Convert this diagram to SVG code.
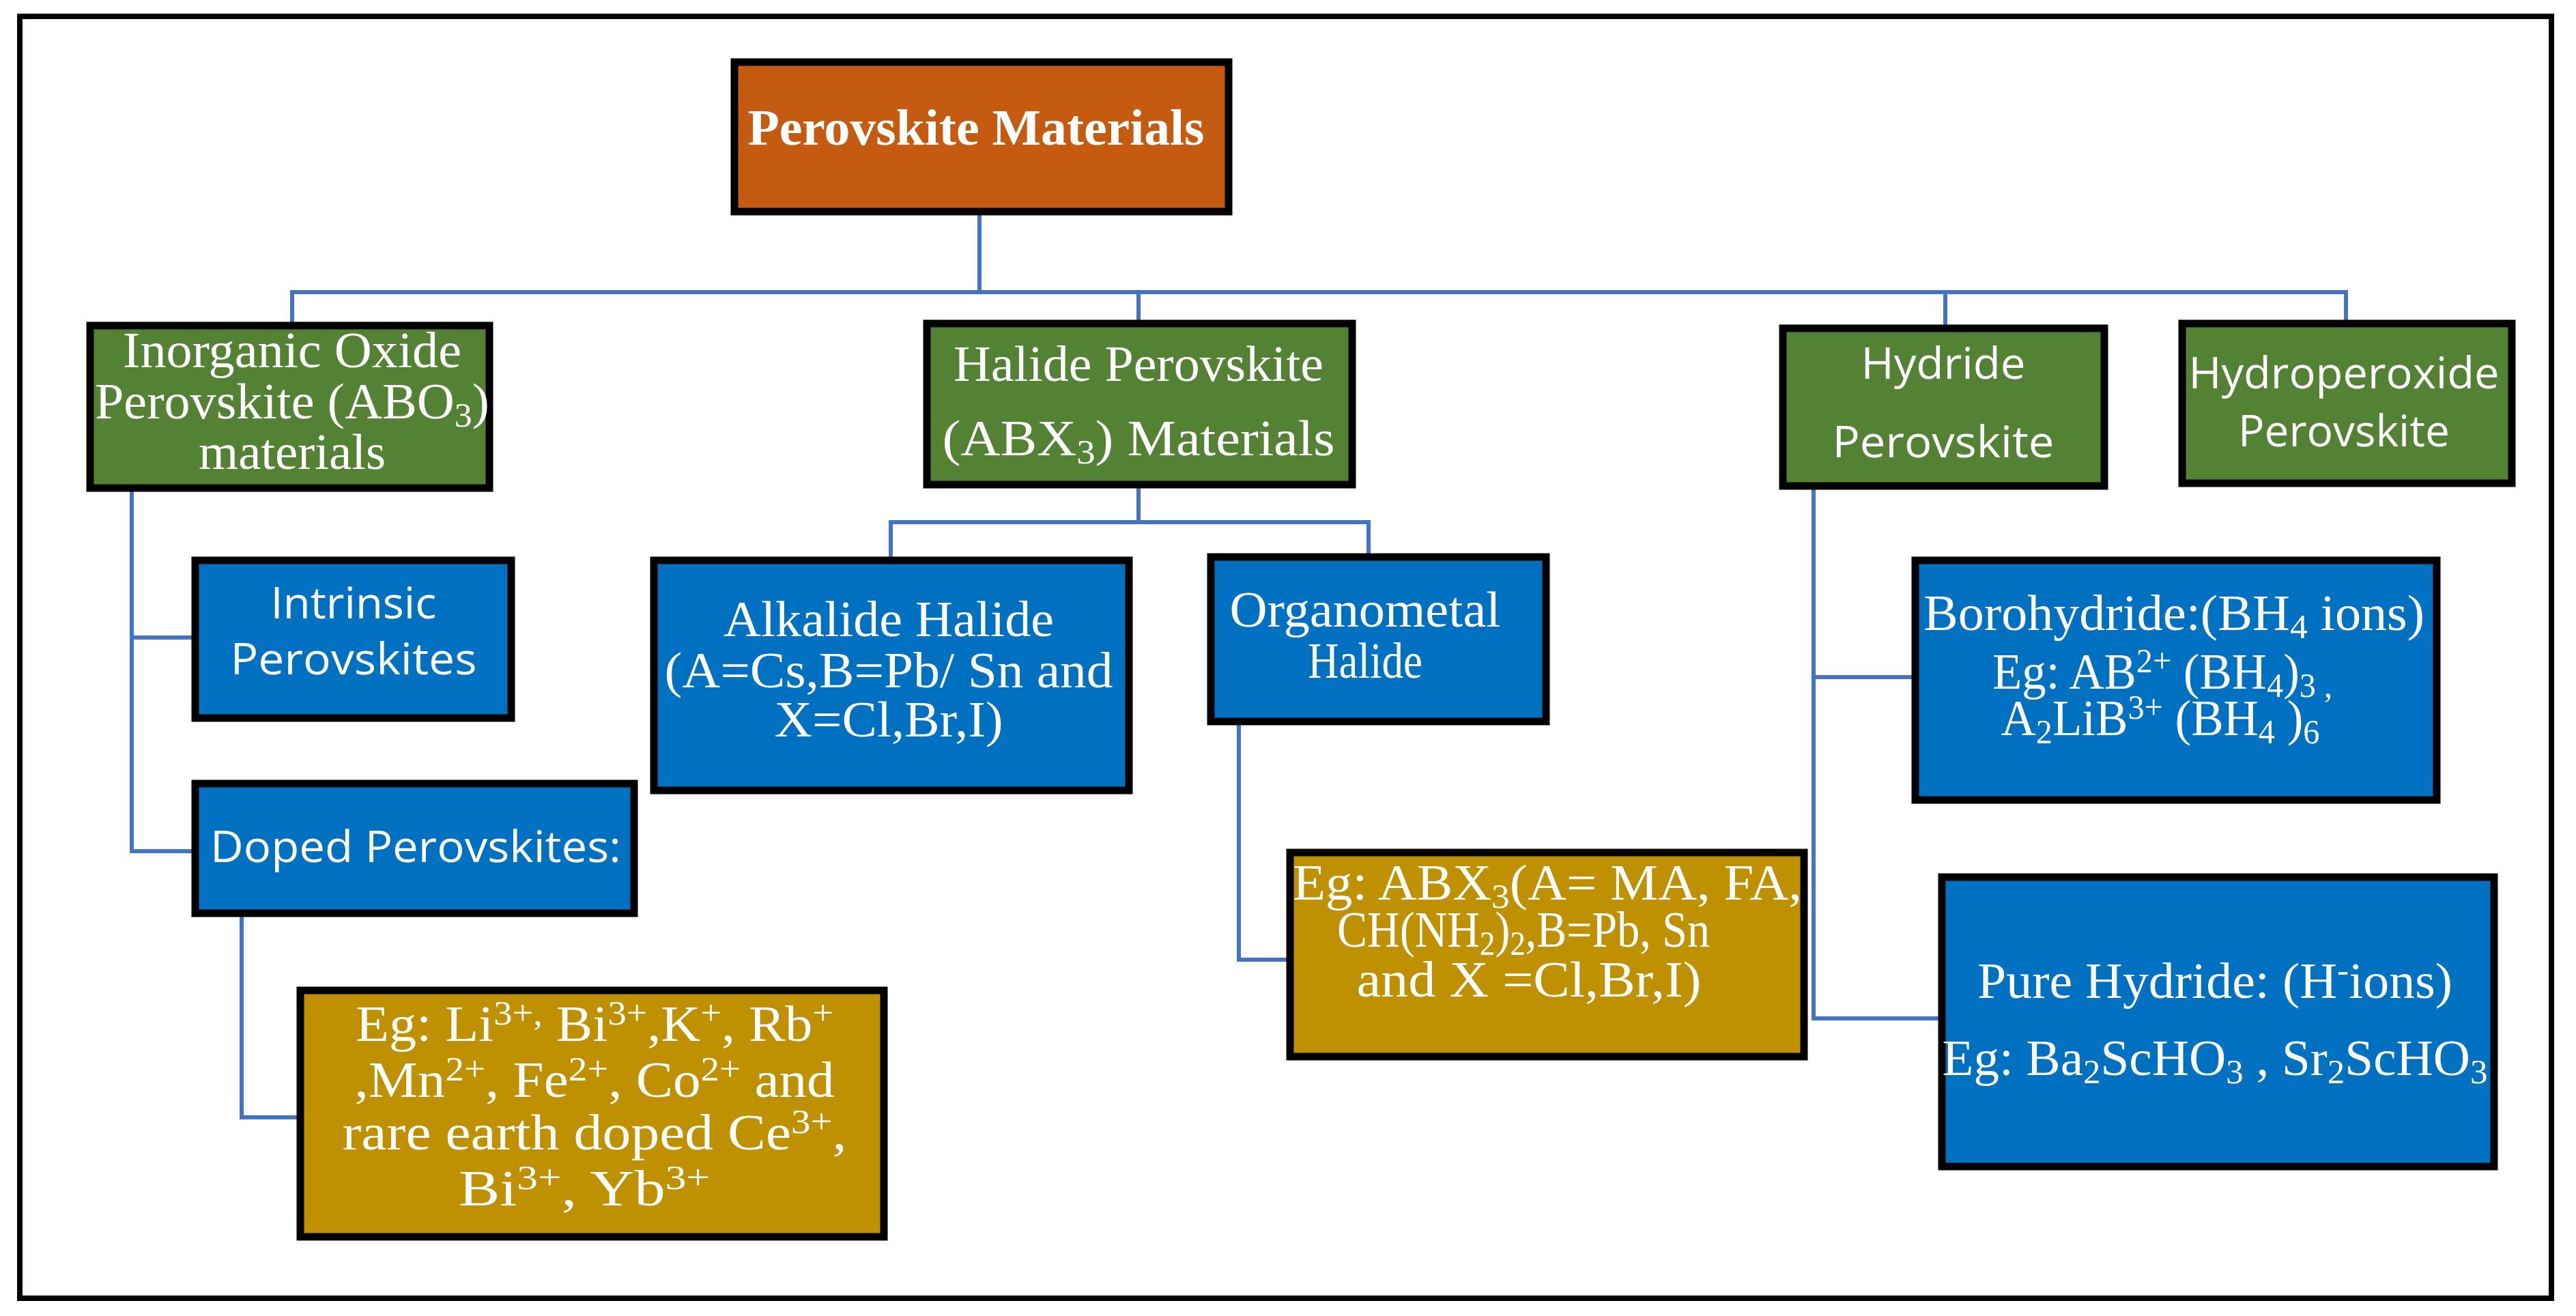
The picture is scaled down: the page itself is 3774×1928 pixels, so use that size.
<svg xmlns="http://www.w3.org/2000/svg" width="3774" height="1928" viewBox="0 0 3774 1928">
<style>
.b{stroke:#000;stroke-width:11}
.o{fill:#C55A11}.g{fill:#548235}.u{fill:#0070C0}.y{fill:#BF9000}
.s{font-family:"Liberation Serif","Times New Roman",serif;fill:#fff;text-anchor:middle;font-size:74px}
.n{font-family:"Open Sans","Noto Sans",sans-serif;fill:#fff;text-anchor:middle;font-size:64px}
.c{fill:none;stroke:#4472C4;stroke-width:6}
.p{font-size:68%}
</style>
<rect x="29" y="24" width="3709" height="1878" fill="#fff" stroke="#000" stroke-width="8"/>
<g id="connectors" class="c">
<path d="M1435 310V428M428 476V428H3437V474M1668 428V474M2850 428V481"/>
<path d="M193 715V1247H286M193 934H286M354 1338V1637H440"/>
<path d="M1668 710V765M1305 821V765H2005V816"/>
<path d="M1815 1057V1406H1890"/>
<path d="M2657 712V1492H2845M2657 992H2806"/>
</g>
<g id="root"><rect class="b o" x="1076" y="91" width="724" height="219"/>
<text class="s" x="1430" y="212" font-size="72" font-weight="bold" textLength="669" lengthAdjust="spacingAndGlyphs">Perovskite Materials</text></g>
<g id="inorganic"><rect class="b g" x="132" y="477" width="585" height="238"/>
<text class="s" x="428" y="538" textLength="496" lengthAdjust="spacingAndGlyphs">Inorganic Oxide</text>
<text class="s" x="428" y="613" textLength="578" lengthAdjust="spacingAndGlyphs">Perovskite (ABO<tspan class="p" dy="12">3</tspan><tspan dy="-12">)</tspan></text>
<text class="s" x="428" y="687" textLength="274" lengthAdjust="spacingAndGlyphs">materials</text></g>
<g id="halide"><rect class="b g" x="1358" y="474" width="623" height="236"/>
<text class="s" x="1668" y="558" textLength="542" lengthAdjust="spacingAndGlyphs">Halide Perovskite</text>
<text class="s" x="1668" y="667" textLength="575" lengthAdjust="spacingAndGlyphs">(ABX<tspan class="p" dy="12">3</tspan><tspan dy="-12">) Materials</tspan></text></g>
<g id="hydride"><rect class="b g" x="2612" y="481" width="471" height="231"/>
<text class="n" x="2847" y="555" textLength="241" lengthAdjust="spacingAndGlyphs">Hydride</text>
<text class="n" x="2847" y="670" textLength="325" lengthAdjust="spacingAndGlyphs">Perovskite</text></g>
<g id="hydroperoxide"><rect class="b g" x="3197" y="474" width="483" height="234"/>
<text class="n" x="3434" y="569" textLength="455" lengthAdjust="spacingAndGlyphs">Hydroperoxide</text>
<text class="n" x="3434" y="654" textLength="310" lengthAdjust="spacingAndGlyphs">Perovskite</text></g>
<g id="intrinsic"><rect class="b u" x="286" y="821" width="463" height="231"/>
<text class="n" x="518" y="906" textLength="243" lengthAdjust="spacingAndGlyphs">Intrinsic</text>
<text class="n" x="518" y="988" textLength="361" lengthAdjust="spacingAndGlyphs">Perovskites</text></g>
<g id="doped"><rect class="b u" x="286" y="1148" width="643" height="190"/>
<text class="n" x="609" y="1263" textLength="602" lengthAdjust="spacingAndGlyphs">Doped Perovskites:</text></g>
<g id="doped-eg"><rect class="b y" x="440" y="1451" width="855" height="361"/>
<g class="s" font-size="82">
<text x="871" y="1525" textLength="700" lengthAdjust="spacingAndGlyphs">Eg: Li<tspan class="p" dy="-24">3+,</tspan><tspan dy="24"> Bi</tspan><tspan class="p" dy="-24">3+</tspan><tspan dy="24">,K</tspan><tspan class="p" dy="-24">+</tspan><tspan dy="24">, Rb</tspan><tspan class="p" dy="-24">+</tspan></text>
<text x="871" y="1607" textLength="703" lengthAdjust="spacingAndGlyphs">,Mn<tspan class="p" dy="-24">2+</tspan><tspan dy="24">, Fe</tspan><tspan class="p" dy="-24">2+</tspan><tspan dy="24">, Co</tspan><tspan class="p" dy="-24">2+</tspan><tspan dy="24"> and</tspan></text>
<text x="871" y="1684" textLength="739" lengthAdjust="spacingAndGlyphs">rare earth doped Ce<tspan class="p" dy="-24">3+</tspan><tspan dy="24">,</tspan></text>
<text x="856" y="1766" textLength="368" lengthAdjust="spacingAndGlyphs">Bi<tspan class="p" dy="-24">3+</tspan><tspan dy="24">, Yb</tspan><tspan class="p" dy="-24">3+</tspan></text>
</g></g>
<g id="alkalide"><rect class="b u" x="958" y="821" width="696" height="337"/>
<text class="s" x="1302" y="932" textLength="484" lengthAdjust="spacingAndGlyphs">Alkalide Halide</text>
<text class="s" x="1302" y="1007" textLength="657" lengthAdjust="spacingAndGlyphs">(A=Cs,B=Pb/ Sn and</text>
<text class="s" x="1302" y="1079" textLength="335" lengthAdjust="spacingAndGlyphs">X=Cl,Br,I)</text></g>
<g id="organometal"><rect class="b u" x="1774" y="816" width="491" height="241"/>
<text class="s" x="2000" y="918" textLength="397" lengthAdjust="spacingAndGlyphs">Organometal</text>
<text class="s" x="2000" y="993" textLength="168" lengthAdjust="spacingAndGlyphs">Halide</text></g>
<g id="organometal-eg"><rect class="b y" x="1890" y="1249" width="753" height="299"/>
<text class="s" x="2267" y="1318" textLength="746" lengthAdjust="spacingAndGlyphs">Eg: ABX<tspan class="p" dy="12">3</tspan><tspan dy="-12">(A= MA, FA,</tspan></text>
<text class="s" x="2232" y="1387" textLength="546" lengthAdjust="spacingAndGlyphs">CH(NH<tspan class="p" dy="12">2</tspan><tspan dy="-12">)</tspan><tspan class="p" dy="12">2</tspan><tspan dy="-12">,B=Pb, Sn</tspan></text>
<text class="s" x="2240" y="1460" textLength="505" lengthAdjust="spacingAndGlyphs">and X =Cl,Br,I)</text></g>
<g id="borohydride"><rect class="b u" x="2806" y="821" width="764" height="351"/>
<text class="s" x="3185" y="923" textLength="734" lengthAdjust="spacingAndGlyphs">Borohydride:(BH<tspan class="p" dy="12">4</tspan><tspan dy="-12"> ions)</tspan></text>
<text class="s" x="3168" y="1009" textLength="498" lengthAdjust="spacingAndGlyphs">Eg: AB<tspan class="p" dy="-24">2+</tspan><tspan dy="24"> (BH</tspan><tspan class="p" dy="12">4</tspan><tspan dy="-12">)</tspan><tspan class="p" dy="12">3 ,</tspan></text>
<text class="s" x="3165" y="1077" textLength="467" lengthAdjust="spacingAndGlyphs">A<tspan class="p" dy="12">2</tspan><tspan dy="-12">LiB</tspan><tspan class="p" dy="-24">3+</tspan><tspan dy="24"> (BH</tspan><tspan class="p" dy="12">4</tspan><tspan dy="-12"> )</tspan><tspan class="p" dy="12">6</tspan></text></g>
<g id="pure-hydride"><rect class="b u" x="2845" y="1285" width="809" height="424"/>
<text class="s" x="3245" y="1462" textLength="696" lengthAdjust="spacingAndGlyphs">Pure Hydride: (H<tspan class="p" dy="-24">-</tspan><tspan dy="24">ions)</tspan></text>
<text class="s" x="3245" y="1575" textLength="799" lengthAdjust="spacingAndGlyphs">Eg: Ba<tspan class="p" dy="12">2</tspan><tspan dy="-12">ScHO</tspan><tspan class="p" dy="12">3</tspan><tspan dy="-12"> , Sr</tspan><tspan class="p" dy="12">2</tspan><tspan dy="-12">ScHO</tspan><tspan class="p" dy="12">3</tspan></text></g>
</svg>
